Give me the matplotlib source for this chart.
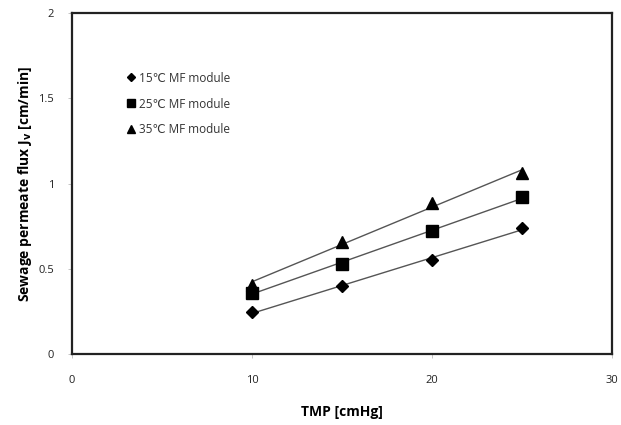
import numpy as np
import matplotlib.pyplot as plt

plt.rcParams['font.family'] = ['Open Sans', 'DejaVu Sans']

tmp = [10, 15, 20, 25]
flux_15 = [0.245, 0.40, 0.55, 0.74]
flux_25 = [0.36, 0.53, 0.72, 0.92]
flux_35 = [0.405, 0.66, 0.885, 1.06]

series = [
    (flux_15, 'D', 6, '15\u2103 MF module'),
    (flux_25, 's', 8, '25\u2103 MF module'),
    (flux_35, '^', 8, '35\u2103 MF module'),
]

fig = plt.figure(figsize=(6.21, 4.25), dpi=100)
ax = fig.add_axes([0.116, 0.167, 0.8695, 0.802])

x = np.array(tmp)
for vals, mk, ms, lab in series:
    ax.plot(x, vals, linestyle='none', marker=mk, markersize=ms, color='black', label=lab)
    # linear trend line
    a, b = np.polyfit(x, vals, 1)
    ax.plot(x, a * x + b, color='#555555', linewidth=1.0, zorder=1)

ax.set_xlim(0, 30)
ax.set_ylim(0, 2)
ax.set_xticks([0, 10, 20, 30])
ax.set_yticks([0, 0.5, 1, 1.5, 2])
ax.set_yticklabels(['0', '0.5', '1', '1.5', '2'])
ax.tick_params(direction='out', length=3, width=0.6, color='#bbbbbb', labelsize=8,
               labelcolor='#222222')
ax.tick_params(axis='x', pad=12)
ax.tick_params(axis='y', pad=10)
for s in ax.spines.values():
    s.set_linewidth(1.6)
    s.set_color('#222222')

ax.set_xlabel('TMP [cmHg]', fontsize=10, fontweight='bold', labelpad=14)
ax.set_ylabel('Sewage permeate flux J$_\\mathbf{v}$ [cm/min]', fontsize=10,
              fontweight='bold', labelpad=3)

leg = ax.legend(loc='upper left', bbox_to_anchor=(0.079, 0.86), frameon=False, fontsize=8.5,
                handletextpad=0.2, labelspacing=1.1, handlelength=1.0, markerscale=0.7)
for t in leg.get_texts():
    t.set_color('#333333')

fig.savefig('out.png', dpi=100)
